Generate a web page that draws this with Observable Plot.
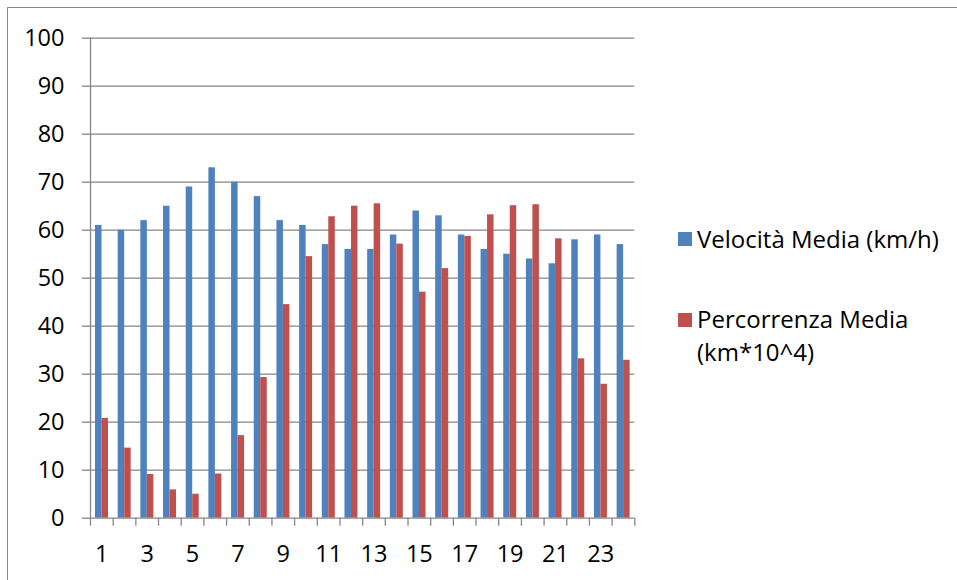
<!DOCTYPE html>
<html>
<head>
<meta charset="utf-8">
<script src="https://cdn.jsdelivr.net/npm/d3@7"></script>
<script src="https://cdn.jsdelivr.net/npm/@observablehq/plot@0.6"></script>
<style>
  html, body { margin: 0; padding: 0; background: #fff; }
  #wrap { position: relative; width: 957px; height: 580px; overflow: hidden; font-family: "Open Sans", sans-serif; }
  #border { position: absolute; left: 7px; top: 7px; width: 1000px; height: 1000px; border-top: 1.5px solid #8a8a8a; border-left: 1.5px solid #8a8a8a; }
  #chart { position: absolute; left: 0; top: 0; }
  #chart svg g[aria-label*="axis"] line, #chart svg g[aria-label*="axis"] path { stroke: #868686; stroke-width: 1.3px; }
  .lg { position: absolute; font-size: 24px; color: #000; white-space: nowrap; }
  .sw { position: absolute; width: 14px; height: 14px; }
</style>
</head>
<body>
<div id="wrap">
  <div id="border"></div>
  <div id="chart"></div>
  <div class="sw" id="sw0" style="left:678px; top:232px;"></div>
  <div class="lg" id="lg0" style="left:697px; top:223.7px; line-height:30px;"></div>
  <div class="sw" id="sw1" style="left:678px; top:313px;"></div>
  <div class="lg" id="lg1" style="left:697px; top:302.2px; line-height:33px;"></div>
</div>
<script>
const hours = [1,2,3,4,5,6,7,8,9,10,11,12,13,14,15,16,17,18,19,20,21,22,23,24];
const velocita = [61,60,62,65,69,73,70,67,62,61,57,56,56,59,64,63,59,56,55,54,53,58,59,57];
const percorrenza = [20.8,14.6,9.1,5.9,5.0,9.2,17.2,29.3,44.5,54.5,62.8,65.0,65.5,57.1,47.1,52.0,58.7,63.2,65.1,65.3,58.2,33.2,27.9,32.9];
const seriesNames = ["Velocità Media (km/h)", "Percorrenza Media (km*10^4)"];
const seriesColors = ["#4F81BD", "#C0504D"];
const xLabels = [1,3,5,7,9,11,13,15,17,19,21,23];
const yTicks = [0,10,20,30,40,50,60,70,80,90,100];
const gridTicks = [10,20,30,40,50,60,70,80,90,100];

const boundaries = [0, ...hours].map(h => h + 0.5);

const chart = Plot.plot({
  width: 957,
  height: 580,
  marginLeft: 90,
  marginRight: 322.7,
  marginTop: 37.7,
  marginBottom: 62.3,
  style: { fontSize: "23.5px", fontFamily: "'Open Sans', sans-serif", color: "#000", background: "transparent" },
  x: { type: "linear", domain: [0.5, 24.5], ticks: boundaries, tickFormat: () => "", tickSize: 8, label: null },
  y: { domain: [0, 100], ticks: yTicks, tickSize: 8, tickPadding: 18, label: null },
  marks: [
    Plot.ruleY(gridTicks, { stroke: "#868686", strokeWidth: 1.3 }),
    Plot.rectY(hours, { x1: h => h - 0.5, x2: h => h + 0.5, y1: 0, y2: (h, i) => velocita[i], fill: seriesColors[0], insetLeft: 5, insetRight: 11.18 }),
    Plot.rectY(hours, { x1: h => h - 0.5, x2: h => h + 0.5, y1: 0, y2: (h, i) => percorrenza[i], fill: seriesColors[1], insetLeft: 11.5, insetRight: 4.68 }),
    Plot.ruleY([0], { stroke: "#868686", strokeWidth: 1.3 }),
    Plot.ruleX([0.5], { y1: 0, y2: 100, stroke: "#868686", strokeWidth: 1.3 }),
    Plot.text(xLabels, { x: d => d, y: () => 0, dy: 36, text: d => String(d), fontSize: 23.5, fill: "#000" })
  ]
});
document.getElementById("chart").appendChild(chart);

document.getElementById("sw0").style.background = seriesColors[0];
document.getElementById("sw1").style.background = seriesColors[1];
document.getElementById("lg0").textContent = seriesNames[0];
const parts = seriesNames[1].split(" (");
document.getElementById("lg1").innerHTML = "";
document.getElementById("lg1").appendChild(document.createTextNode(parts[0]));
document.getElementById("lg1").appendChild(document.createElement("br"));
document.getElementById("lg1").appendChild(document.createTextNode("(" + parts[1]));
</script>
</body>
</html>
